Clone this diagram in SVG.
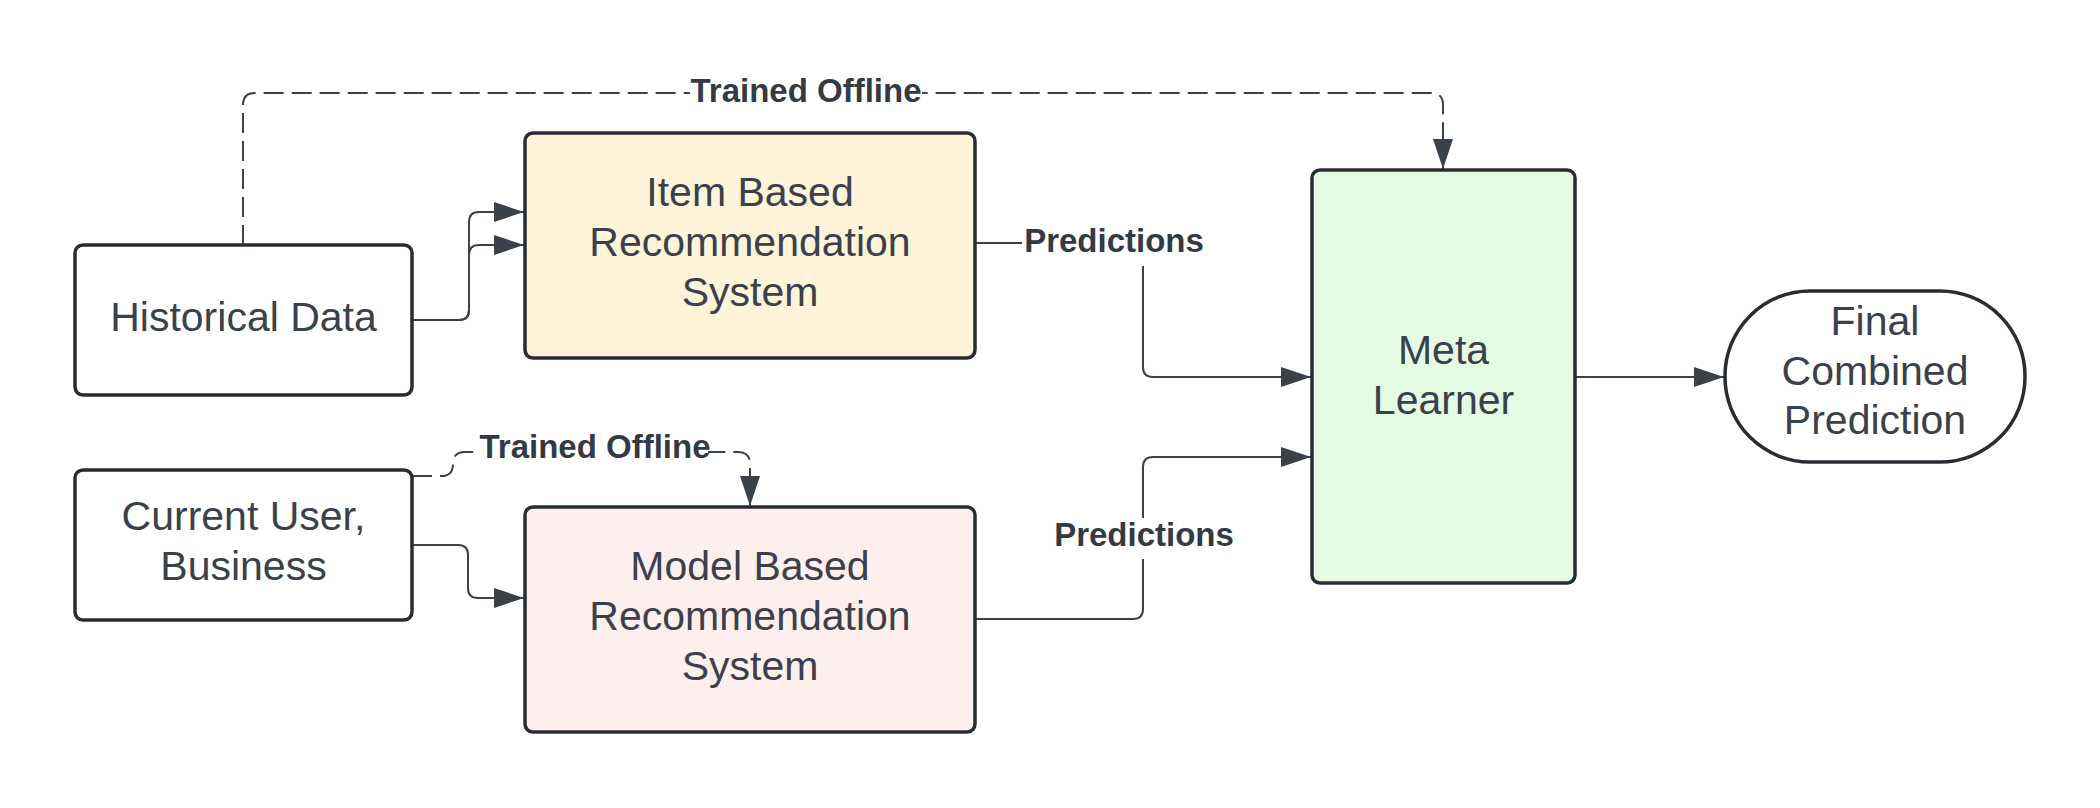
<svg xmlns="http://www.w3.org/2000/svg" width="2100" height="808" viewBox="0 0 2100 808">
<defs>
<style>
.box{stroke:#282c33;stroke-width:3.5}
.conn{fill:none;stroke:#3a414a;stroke-width:2}
.dash{stroke-dasharray:20 8}
.t{font-family:"Liberation Sans",Arial,sans-serif;font-size:41px;fill:#3a414a;text-anchor:middle}
.lbl{font-family:"Liberation Sans",Arial,sans-serif;font-size:33px;font-weight:bold;fill:#333a44;text-anchor:middle}
.bg{fill:#ffffff}
</style>
<marker id="arr" markerUnits="userSpaceOnUse" markerWidth="30" markerHeight="20" refX="30" refY="10" orient="auto" viewBox="0 0 30 20">
<path d="M0,0 L30,10 L0,20 Z" fill="#3a414a"/>
</marker>
</defs>
<rect width="2100" height="808" fill="#ffffff"/>
<g id="connectors">
<path class="conn dash" d="M243,245 V105 Q243,93 255,93 H1431 Q1443,93 1443,105 V169" marker-end="url(#arr)"/>
<path class="conn dash" d="M412,476 H441 Q453,476 453,464 Q453,452 465,452 H738 Q750,452 750,464 V506" marker-end="url(#arr)"/>
<path class="conn" d="M412,320 H459 Q469,320 469,310 V222 Q469,212 479,212 H524" marker-end="url(#arr)"/>
<path class="conn" d="M412,320 H459 Q469,320 469,310 V255 Q469,245 479,245 H524" marker-end="url(#arr)"/>
<path class="conn" d="M412,545 H458 Q468,545 468,555 V588 Q468,598 478,598 H524" marker-end="url(#arr)"/>
<path class="conn" d="M975,243 H1133 Q1143,243 1143,253 V367 Q1143,377 1153,377 H1311" marker-end="url(#arr)"/>
<path class="conn" d="M975,619 H1133 Q1143,619 1143,609 V467 Q1143,457 1153,457 H1311" marker-end="url(#arr)"/>
<path class="conn" d="M1575,377 H1724" marker-end="url(#arr)"/>
<rect class="bg" x="690" y="76" width="232" height="30"/>
<text class="lbl" x="806" y="102">Trained Offline</text>
<rect class="bg" x="481" y="432" width="227" height="30"/>
<text class="lbl" x="595" y="458">Trained Offline</text>
<rect class="bg" x="1022" y="221" width="184" height="45"/>
<text class="lbl" x="1114" y="252">Predictions</text>
<rect class="bg" x="1052" y="518" width="184" height="41"/>
<text class="lbl" x="1144" y="546">Predictions</text>
</g>
<g id="historical-data">
<rect class="box" x="75" y="245" width="337" height="150" rx="8" fill="#ffffff"/>
<text class="t" x="243.5" y="331">Historical Data</text>
</g>
<g id="current-user">
<rect class="box" x="75" y="470" width="337" height="150" rx="8" fill="#ffffff"/>
<text class="t" x="243.5" y="530">Current User,</text>
<text class="t" x="243.5" y="580">Business</text>
</g>
<g id="item-based">
<rect class="box" x="525" y="133" width="450" height="225" rx="8" fill="#fff3d9"/>
<text class="t" x="750" y="206">Item Based</text>
<text class="t" x="750" y="256">Recommendation</text>
<text class="t" x="750" y="306">System</text>
</g>
<g id="model-based">
<rect class="box" x="525" y="507" width="450" height="225" rx="8" fill="#ffeeee"/>
<text class="t" x="750" y="580">Model Based</text>
<text class="t" x="750" y="630">Recommendation</text>
<text class="t" x="750" y="680">System</text>
</g>
<g id="meta-learner">
<rect class="box" x="1312" y="170" width="263" height="413" rx="8" fill="#e3fae3"/>
<text class="t" x="1443.5" y="364">Meta</text>
<text class="t" x="1443.5" y="414">Learner</text>
</g>
<g id="final-prediction">
<rect class="box" x="1725" y="291" width="300" height="171" rx="85" ry="85" fill="#ffffff"/>
<text class="t" x="1875" y="335">Final</text>
<text class="t" x="1875" y="385">Combined</text>
<text class="t" x="1875" y="434">Prediction</text>
</g>
</svg>
